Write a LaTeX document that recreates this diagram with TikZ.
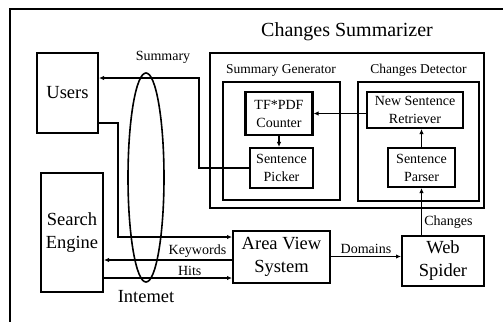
\documentclass[tikz,border=0pt]{standalone}
\usepackage{fontspec}
\setmainfont{Liberation Serif}
\usetikzlibrary{arrows.meta,positioning,shapes.geometric}
\tikzset{
  bigbox/.style={draw,line width=2pt,align=center,inner sep=1pt,
    font=\fontsize{18.5}{23}\selectfont},
  smallbox/.style={draw,line width=2.2pt,align=center,inner sep=1pt,
    font=\fontsize{14}{18}\selectfont},
  groupbox/.style={draw,line width=2pt,inner sep=0pt},
  grouptitle/.style={font=\fontsize{13.5}{16}\selectfont,inner sep=0pt},
  flowline/.style={line width=1.6pt,-{Latex[length=5pt,width=4.5pt]}},
  flowlabel/.style={font=\fontsize{14}{16}\selectfont,inner sep=2pt},
}
\begin{document}
\begin{tikzpicture}[x=1pt,y=-1pt]
  \useasboundingbox (0,0) rectangle (503,322);
  \draw[line width=2.8pt] (503,9) -- (10,9) -- (10,322);

  % the summarizer and its two parts
  \node[groupbox,minimum width=274,minimum height=155] (summ) at (347,130.5) {};
  \node[groupbox,minimum width=117,minimum height=118] (gen) at (281,141) {};
  \node[groupbox,minimum width=121,minimum height=119] (det) at (418.5,141.5) {};
  \node[grouptitle,font=\fontsize{20}{22}\selectfont,above=11pt of summ.north] {Changes Summarizer};
  \node[grouptitle,above=4pt of gen.north] {Summary Generator};
  \node[grouptitle,above=4pt of det.north] {Changes Detector};

  \foreach \n/\x/\y/\w/\h/\t in {tfpdf/279/113.5/67/43/{TF*PDF\\Counter},
      picker/281.5/168/63/40/{Sentence\\Picker},
      retriever/415/110/96/36/{New Sentence\\Retriever},
      parser/421.5/167.5/67/39/{Sentence\\Parser}}
    {\node[smallbox,minimum width=\w,minimum height=\h] (\n) at (\x,\y) {\t};}

  \node[bigbox,minimum width=61,minimum height=80] (users) at (67.5,93) {Users};
  \node[bigbox,minimum width=62,minimum height=119] (search) at (72,232.5) {Search\\Engine};
  \node[bigbox,minimum width=97,minimum height=52] (area) at (281.5,256.5) {Area View\\System};
  \node[bigbox,minimum width=82,minimum height=50] (web) at (443,261) {Web\\Spider};

  \node[draw,ellipse,line width=1.6pt,minimum width=36,minimum height=209] (net) at (146,177.5) {};
  \node[font=\fontsize{18.5}{20}\selectfont,inner sep=0pt,below=7pt of net.south] {Intemet};

  \coordinate (sumbend) at (199,78);
  \coordinate (qbend) at (118,123);
  \coordinate (qrow) at (0,237);
  \coordinate (kwrow) at (0,260);
  \coordinate (hitrow) at (0,278);

  \draw[flowline] (retriever.west |- tfpdf) -- (tfpdf.east);
  \draw[flowline] (tfpdf.south) -- (tfpdf.south |- picker.north);
  \draw[flowline] (parser.north) -- (parser.north |- retriever.south);
  \draw[flowline] (web.north -| parser) -- node[flowlabel,right,pos=0.27]{Changes} (parser.south);
  \draw[flowline] (area.east) -- node[flowlabel,above,pos=0.5]{Domains} (area.east -| web.west);
  \draw[flowline] (picker.west) -| (sumbend) -- node[flowlabel,above=12pt,pos=0.36]{Summary} (sumbend -| users.east);
  \draw[flowline] (users.east |- qbend) -- (qbend) |- (area.west |- qrow);
  \draw[flowline] (area.west |- kwrow) -- node[flowlabel,above,pos=0.27]{Keywords} (search.east |- kwrow);
  \draw[flowline] (search.east |- hitrow) -- node[flowlabel,above,pos=0.67]{Hits} (area.west |- hitrow);
\end{tikzpicture}
\end{document}
